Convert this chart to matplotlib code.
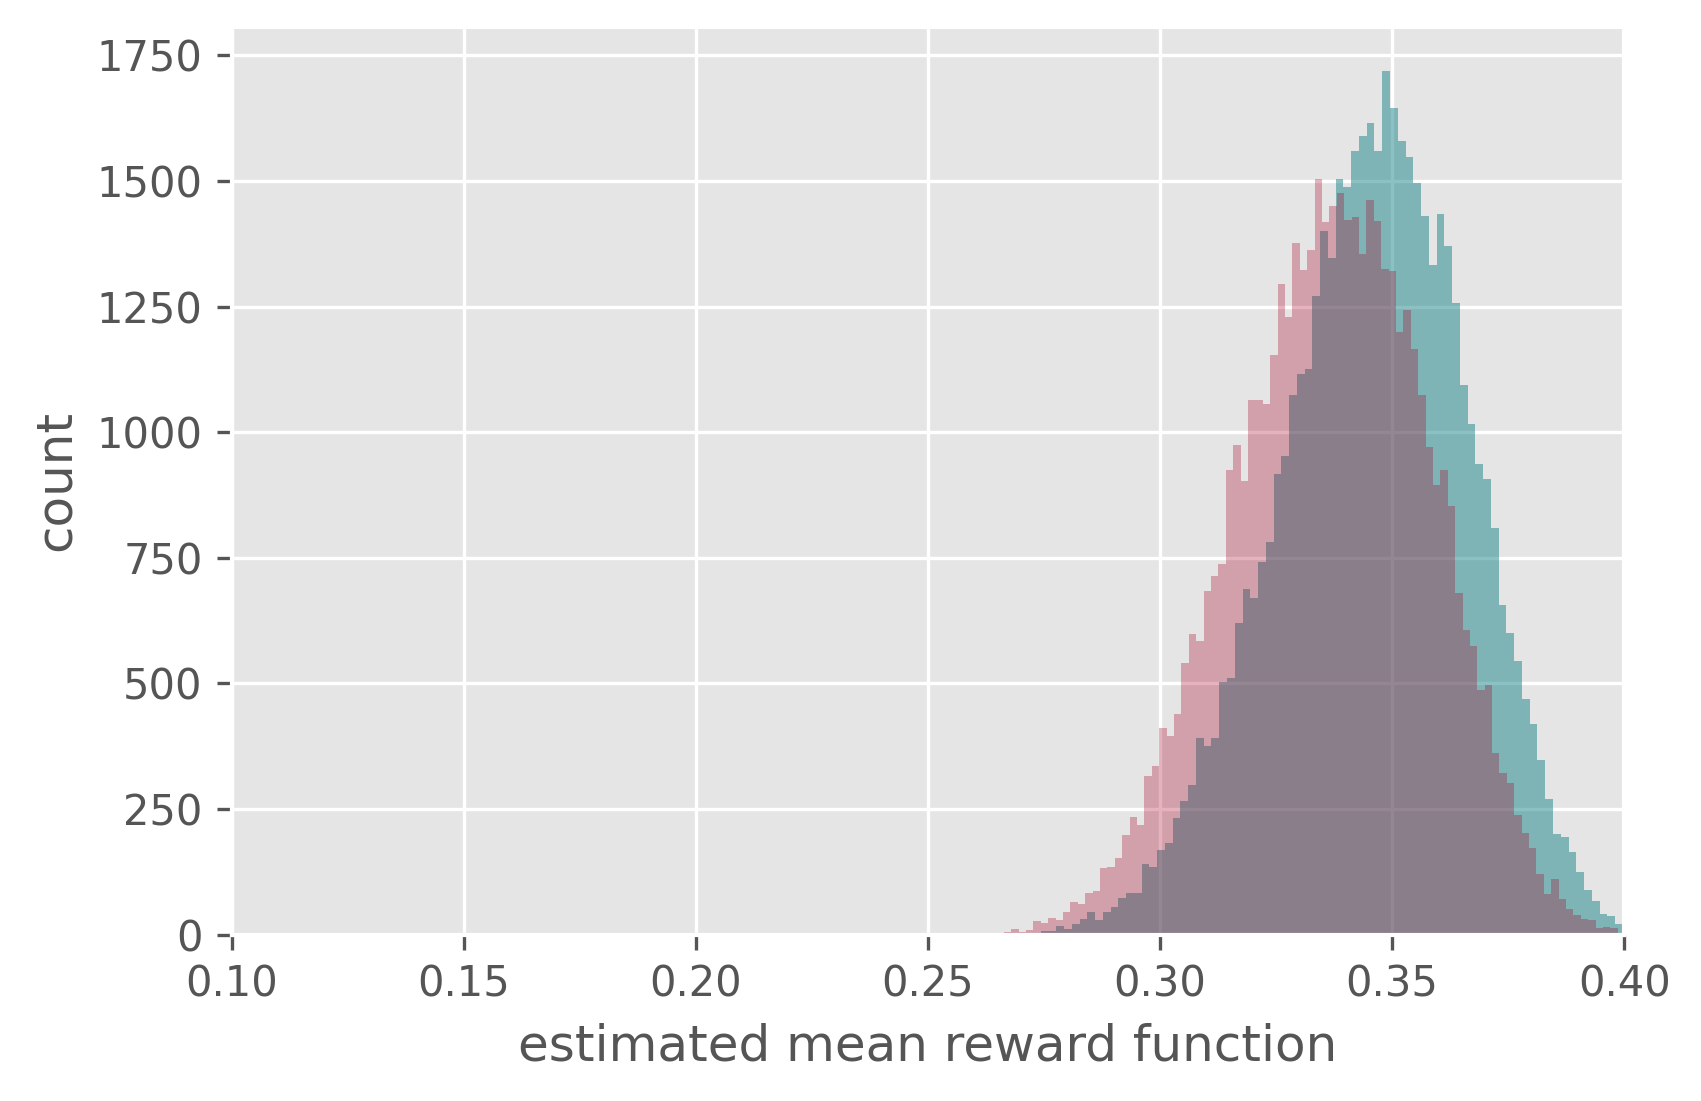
import numpy as np
import matplotlib
matplotlib.use("Agg")
import matplotlib.pyplot as plt

plt.style.use('ggplot')

# bin layout (left edge, bin width)
pink_start, pink_width = 0.26632, 0.001594
teal_start, teal_width = 0.27429, 0.001672

# counts per bin, left to right
pink_counts = [
    5, 12, 5, 10, 27, 23, 33, 29, 45, 65,
    61, 83, 87, 133, 135, 153, 199, 235, 219, 316,
    336, 412, 396, 440, 541, 599, 585, 685, 713, 737,
    924, 974, 902, 1065, 1065, 1057, 1153, 1294, 1229, 1376,
    1322, 1362, 1503, 1418, 1450, 1475, 1422, 1428, 1354, 1462,
    1420, 1324, 1320, 1200, 1244, 1165, 1075, 971, 894, 925,
    854, 681, 607, 575, 487, 497, 362, 322, 302, 238,
    203, 173, 121, 81, 111, 71, 51, 39, 31, 29,
    13, 15, 13,
]
teal_counts = [
    7, 7, 17, 12, 22, 32, 45, 29, 45, 55,
    73, 83, 83, 141, 135, 169, 183, 233, 266, 298,
    392, 376, 392, 502, 510, 621, 687, 671, 741, 782,
    916, 952, 1075, 1115, 1125, 1272, 1400, 1346, 1503, 1487,
    1559, 1589, 1615, 1559, 1719, 1645, 1579, 1547, 1495, 1430,
    1332, 1434, 1370, 1257, 1093, 1017, 937, 906, 810, 657,
    601, 545, 469, 420, 348, 270, 201, 195, 165, 125,
    89, 67, 41, 37, 21,
]

x_ticks = [0.10, 0.15, 0.20, 0.25, 0.30, 0.35, 0.40]
y_ticks = [0, 250, 500, 750, 1000, 1250, 1500, 1750]


def draw_figure():
    pink_edges = pink_start + pink_width * np.arange(len(pink_counts) + 1)
    teal_edges = teal_start + teal_width * np.arange(len(teal_counts) + 1)

    fig = plt.figure(figsize=(5.67, 3.67), dpi=300)
    ax = fig.add_axes([0.1362, 0.1510, 0.8187, 0.8248])

    # teal first, pink drawn over it
    ax.hist(teal_edges[:-1], bins=teal_edges, weights=teal_counts,
            color='#198589', alpha=0.5, linewidth=0)
    ax.hist(pink_edges[:-1], bins=pink_edges, weights=pink_counts,
            color='#A90227', alpha=0.3, linewidth=0)

    ax.set_xlim(0.1, 0.4)
    ax.set_ylim(0, 1807)
    ax.set_xticks(x_ticks)
    ax.set_xticklabels(['%.2f' % t for t in x_ticks])
    ax.set_yticks(y_ticks)
    ax.set_xlabel('estimated mean reward function')
    ax.set_ylabel('count')

    fig.savefig('out.png', dpi=300)


draw_figure()
